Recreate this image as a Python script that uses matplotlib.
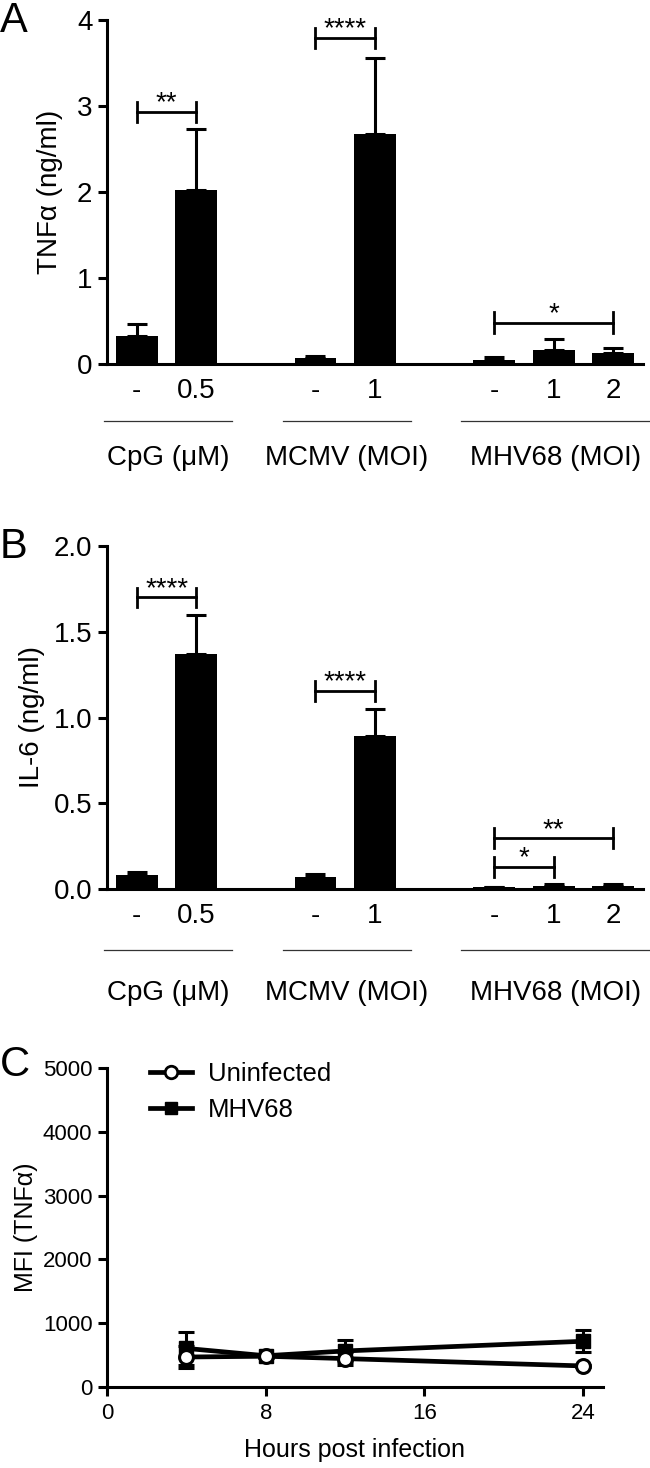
import matplotlib
matplotlib.use("Agg")
import matplotlib.pyplot as plt
from matplotlib.lines import Line2D
import numpy as np

plt.rcParams['font.family'] = ['Liberation Sans', 'DejaVu Sans']

# ---------------- data ----------------
groups = ["CpG (μM)", "MCMV (MOI)", "MHV68 (MOI)"]
group_sizes = [2, 2, 3]
tick_labels = ["-", "0.5", "-", "1", "-", "1", "2"]

tnf_mean = [0.33, 2.02, 0.07, 2.67, 0.05, 0.16, 0.13]
tnf_err = [0.14, 0.71, 0.02, 0.89, 0.03, 0.13, 0.06]

il6_mean = [0.08, 1.37, 0.07, 0.89, 0.01, 0.02, 0.02]
il6_err = [0.02, 0.23, 0.015, 0.16, 0.004, 0.008, 0.008]

# significance: (bar i, bar j, label, height)
sig_tnf = [(0, 1, "**", 2.93), (2, 3, "****", 3.79), (4, 6, "*", 0.48)]
sig_il6 = [(0, 1, "****", 1.70), (2, 3, "****", 1.156), (4, 6, "**", 0.295), (4, 5, "*", 0.13)]

hours = [4, 8, 12, 24]
uninf_mean = [470, 482, 445, 330]
uninf_err = [180, 20, 105, 20]
mhv_mean = [605, 490, 565, 717]
mhv_err = [255, 20, 168, 172]

# ---------------- layout ----------------
W, H = 650, 1468
fig = plt.figure(figsize=(W / 100, H / 100), dpi=100)

def ax_rect(x0, x1, ytop, ybot):
    return [x0 / W, 1 - ybot / H, (x1 - x0) / W, (ybot - ytop) / H]

axA = fig.add_axes(ax_rect(107, 643, 20, 364))
axB = fig.add_axes(ax_rect(107, 643, 546, 889))
axC = fig.add_axes(ax_rect(107, 603, 1068, 1387))

FS = 20
FSC = 16
LW = 2.2

# x positions from group sizes (gap of one slot between groups)
pos = []
start = 0
group_spans = []
for n in group_sizes:
    p = list(range(start, start + n))
    pos.extend(p)
    group_spans.append((p[0], p[-1]))
    start += n + 1
pos = np.array(pos, dtype=float)


def style_axes(ax, fs):
    for s in ["top", "right"]:
        ax.spines[s].set_visible(False)
    for s in ["left", "bottom"]:
        ax.spines[s].set_linewidth(LW)
    ax.tick_params(axis='both', width=LW, length=6.5, labelsize=fs, pad=4)


def set_ylab(ax, text, xc, fs):
    ax.set_ylabel(text, fontsize=fs)
    ax.yaxis.label.set_verticalalignment('center')
    ax.yaxis.set_label_coords(xc, 0.5)


def bar_panel(ax, mean, err, sigs, ymax, yticks, fmt, half, line_y, name_y):
    ax.bar(pos, mean, width=0.70, color='black', zorder=2)
    ax.errorbar(pos, mean, yerr=[np.zeros(len(err)), err], fmt='none',
                ecolor='black', elinewidth=LW, capsize=7, capthick=LW, zorder=1)
    style_axes(ax, FS)
    ax.set_xlim(-0.5, 8.5)
    ax.set_ylim(0, ymax)
    ax.set_yticks(yticks)
    ax.set_yticklabels([fmt.format(v) for v in yticks])
    ax.set_xticks(pos)
    ax.set_xticklabels(tick_labels)
    ax.tick_params(axis='x', length=0, pad=10)
    for i, j, lab, y in sigs:
        x1, x2 = pos[i], pos[j]
        ax.plot([x1, x2], [y, y], color='black', lw=2.0, clip_on=False)
        for xx in (x1, x2):
            ax.plot([xx, xx], [y - half, y + half], color='black', lw=2.0, clip_on=False)
        ax.annotate(lab, xy=((x1 + x2) / 2, y), xytext=(0, 1), textcoords='offset points',
                    ha='center', va='baseline', fontsize=FS)
    trans = ax.get_xaxis_transform()
    for (a, b), g in zip(group_spans, groups):
        x0 = a - 0.55
        x1 = b + 0.6
        ax.plot([x0, x1], [line_y, line_y], color='#333333', lw=0.9,
                transform=trans, clip_on=False)
        ax.text((x0 + x1) / 2, name_y, g, transform=trans, ha='center', va='center',
                fontsize=FS)


bar_panel(axA, tnf_mean, tnf_err, sig_tnf, 4, [0, 1, 2, 3, 4], "{:.0f}", 0.12, -0.166, -0.273)
set_ylab(axA, "TNFα (ng/ml)", (50 - 107) / 536, FS)

bar_panel(axB, il6_mean, il6_err, sig_il6, 2.0, [0, 0.5, 1.0, 1.5, 2.0], "{:.1f}", 0.058, -0.178, -0.303)
set_ylab(axB, "IL-6 (ng/ml)", (32 - 107) / 536, FS)

# ---------------- panel C ----------------
style_axes(axC, FSC)
axC.errorbar(hours, uninf_mean, yerr=uninf_err, color='black', lw=3.4, elinewidth=LW,
             capsize=6, capthick=LW, marker='o', markersize=10, markerfacecolor='white',
             markeredgecolor='black', markeredgewidth=2.2, zorder=3)
axC.errorbar(hours, mhv_mean, yerr=mhv_err, color='black', lw=3.4, elinewidth=LW,
             capsize=6, capthick=LW, marker='s', markersize=10, markerfacecolor='black',
             markeredgecolor='black', zorder=2)
axC.set_xlim(0, 25)
axC.set_ylim(0, 5000)
axC.set_xticks([0, 8, 16, 24])
axC.set_yticks([0, 1000, 2000, 3000, 4000, 5000])
axC.tick_params(axis='x', pad=5, labelsize=16)
axC.set_xlabel("Hours post infection", fontsize=18, labelpad=10)
set_ylab(axC, "MFI (TNFα)", (26 - 107) / 496, 18)

handles = [
    Line2D([], [], color='black', lw=3.4, marker='o', markersize=9,
           markerfacecolor='white', markeredgecolor='black', markeredgewidth=2.0),
    Line2D([], [], color='black', lw=3.4, marker='s', markersize=8,
           markerfacecolor='black', markeredgecolor='black'),
]
axC.legend(handles, ["Uninfected", "MHV68"], loc='upper left',
           bbox_to_anchor=((150 - 107) / 496, (1387 - 1062) / 319),
           frameon=False, fontsize=18.5, handlelength=1.63, handletextpad=0.62,
           labelspacing=0.45, borderpad=0, borderaxespad=0)

# panel letters
fig.text(0 / W, 1 - 21 / H, "A", fontsize=30, ha='left', va='center')
fig.text(0 / W, 1 - 547 / H, "B", fontsize=30, ha='left', va='center')
fig.text(0 / W, 1 - 1065 / H, "C", fontsize=30, ha='left', va='center')

fig.savefig("out.png", dpi=100)
